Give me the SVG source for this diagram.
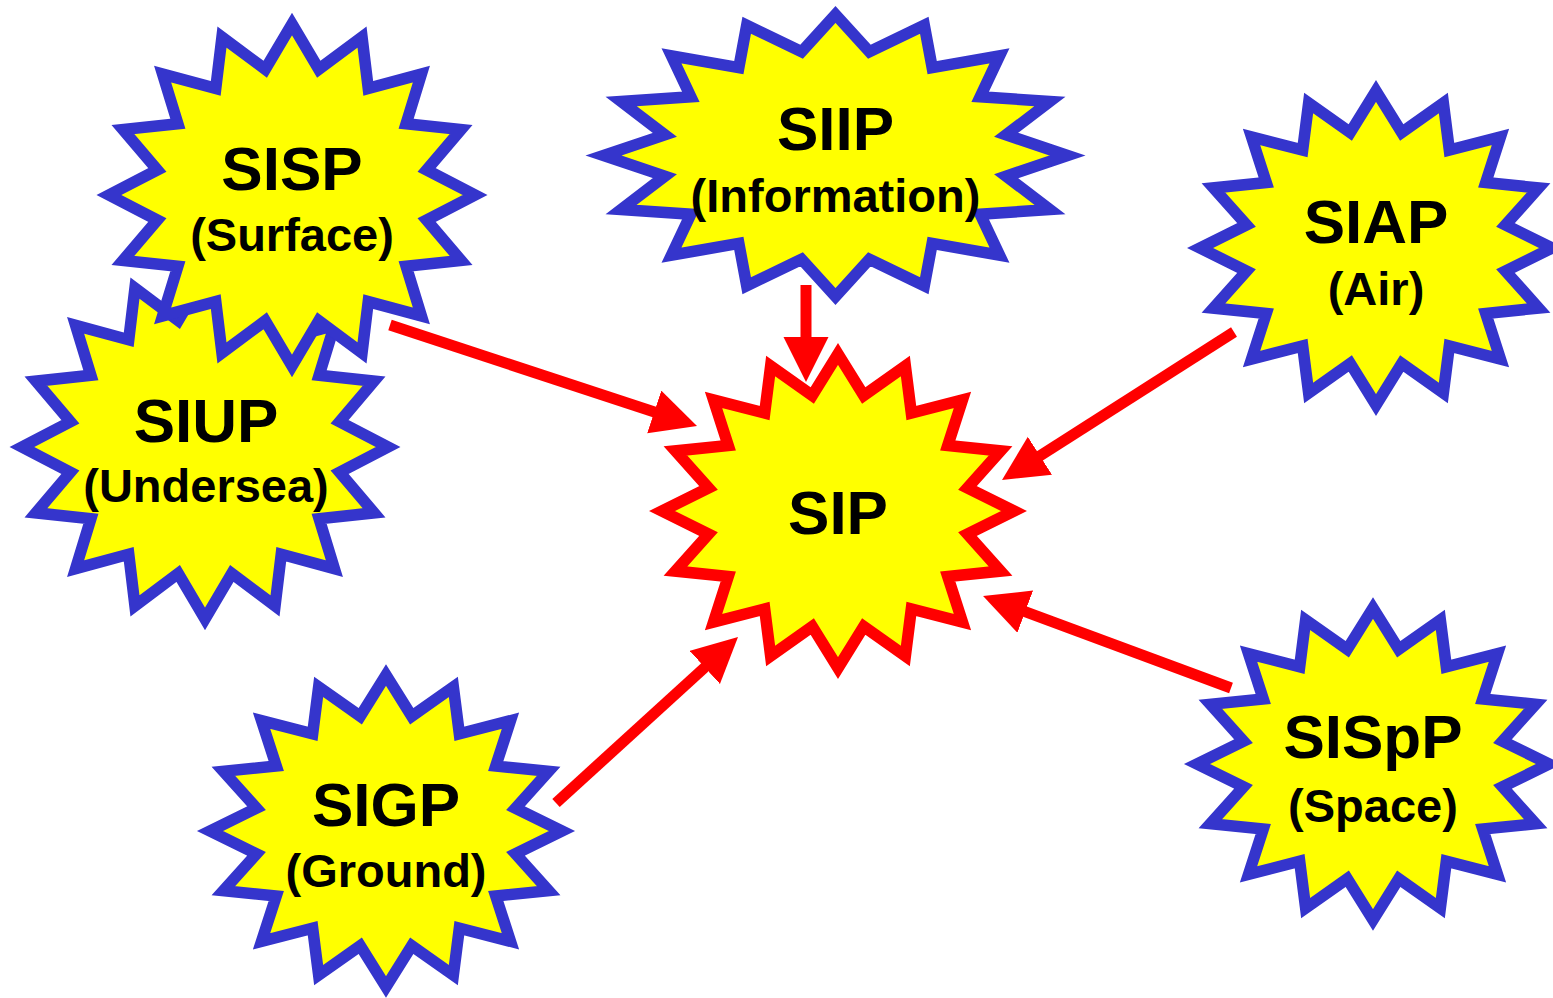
<svg xmlns="http://www.w3.org/2000/svg" xmlns:xlink="http://www.w3.org/1999/xlink" width="1553" height="998" viewBox="0 0 1553 998">
<style>
.star{fill:#FFFF00;stroke-width:11.5;stroke-linejoin:miter;stroke-miterlimit:10}
.blue{stroke:#3535CC}
.red{stroke:#FF0000}
.t{font-family:"Liberation Sans",Arial,Helvetica,sans-serif;font-weight:bold;fill:#000;text-anchor:middle}
.main{font-size:62px}
.sub{font-size:47px}
.conn{stroke:#FF0000;stroke-width:11;fill:none}
</style>
<defs>
<path id="star16" vector-effect="non-scaling-stroke" d="M0,-1 L0.14632,-0.73559 L0.38268,-0.92388 L0.41668,-0.6236 L0.70711,-0.70711 L0.6236,-0.41668 L0.92388,-0.38268 L0.73559,-0.14632 L1,0 L0.73559,0.14632 L0.92388,0.38268 L0.6236,0.41668 L0.70711,0.70711 L0.41668,0.6236 L0.38268,0.92388 L0.14632,0.73559 L0,1 L-0.14632,0.73559 L-0.38268,0.92388 L-0.41668,0.6236 L-0.70711,0.70711 L-0.6236,0.41668 L-0.92388,0.38268 L-0.73559,0.14632 L-1,0 L-0.73559,-0.14632 L-0.92388,-0.38268 L-0.6236,-0.41668 L-0.70711,-0.70711 L-0.41668,-0.6236 L-0.38268,-0.92388 L-0.14632,-0.73559 Z"/>
<marker id="head" markerUnits="userSpaceOnUse" markerWidth="46" markerHeight="46" refX="1" refY="22.5" orient="auto" viewBox="0 0 46 46">
<path d="M0,0 L45,22.5 L0,45 Z" fill="#FF0000"/>
</marker>
</defs>
<g id="SIUP">
<use href="#star16" xlink:href="#star16" class="star blue" transform="translate(205,447) scale(183,172)"/>
<text class="t main" x="206" y="442">SIUP</text>
<text class="t sub" x="206" y="502">(Undersea)</text>
</g>
<g id="SISP">
<use href="#star16" xlink:href="#star16" class="star blue" transform="translate(292,195) scale(183,171)"/>
<text class="t main" x="292" y="190">SISP</text>
<text class="t sub" x="292" y="251">(Surface)</text>
</g>
<g id="SIIP">
<use href="#star16" xlink:href="#star16" class="star blue" transform="translate(835.5,155.5) scale(232,141)"/>
<text class="t main" x="835.5" y="150">SIIP</text>
<text class="t sub" x="835.5" y="212">(Information)</text>
</g>
<g id="SIAP">
<use href="#star16" xlink:href="#star16" class="star blue" transform="translate(1376,248) scale(176,157)"/>
<text class="t main" x="1376" y="243">SIAP</text>
<text class="t sub" x="1376" y="305">(Air)</text>
</g>
<g id="SIP">
<use href="#star16" xlink:href="#star16" class="star red" transform="translate(838,511) scale(176,157)"/>
<text class="t main" x="838" y="534">SIP</text>
</g>
<g id="SISpP">
<use href="#star16" xlink:href="#star16" class="star blue" transform="translate(1373,764) scale(176,156)"/>
<text class="t main" x="1373" y="758">SISpP</text>
<text class="t sub" x="1373" y="822">(Space)</text>
</g>
<g id="SIGP">
<use href="#star16" xlink:href="#star16" class="star blue" transform="translate(386,831) scale(176,156)"/>
<text class="t main" x="386" y="826">SIGP</text>
<text class="t sub" x="386" y="887">(Ground)</text>
</g>
<g id="connectors">
<line class="conn" x1="390" y1="325" x2="655.2" y2="412.3" marker-end="url(#head)"/>
<line class="conn" x1="806" y1="285" x2="806" y2="338" marker-end="url(#head)"/>
<line class="conn" x1="1234" y1="332" x2="1039.1" y2="456.3" marker-end="url(#head)"/>
<line class="conn" x1="1231" y1="688" x2="1024.3" y2="611.3" marker-end="url(#head)"/>
<line class="conn" x1="556" y1="803" x2="705.5" y2="666.7" marker-end="url(#head)"/>
</g>
</svg>
